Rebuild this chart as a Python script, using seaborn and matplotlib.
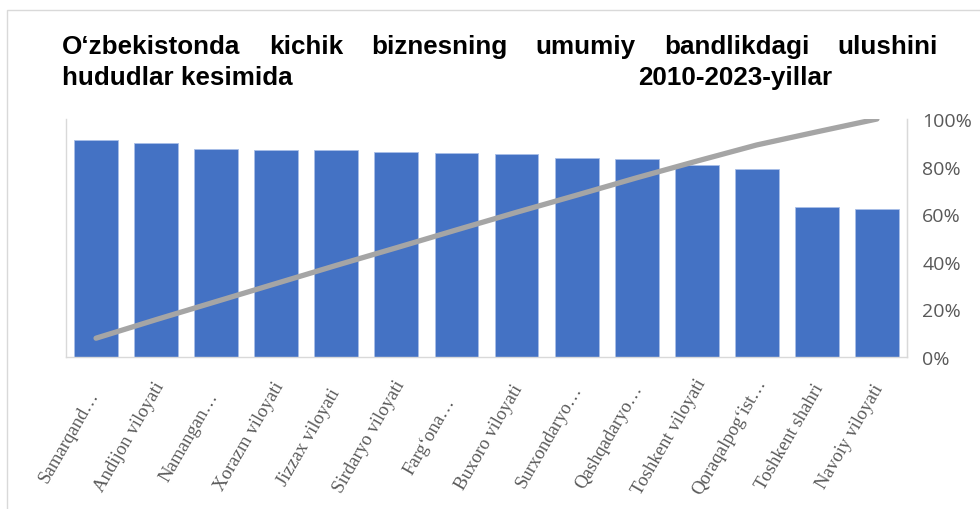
import numpy as np
import matplotlib
matplotlib.use('Agg')
import matplotlib.pyplot as plt
from matplotlib.patches import Rectangle
from matplotlib.ticker import PercentFormatter
from matplotlib.transforms import ScaledTranslation
import seaborn as sns

# Hududlar bo'yicha kichik biznes ulushi (%) va kumulyativ ulush (Pareto chizig'i)
regions = ['Samarqand…', 'Andijon viloyati', 'Namangan…', 'Xorazm viloyati',
           'Jizzax viloyati', 'Sirdaryo viloyati', 'Farg‘ona…', 'Buxoro viloyati',
           'Surxondaryo…', 'Qashqadaryo…', 'Toshkent viloyati', 'Qoraqalpog‘ist…',
           'Toshkent shahri', 'Navoiy viloyati']
shares = [91.2, 90.1, 87.5, 87.1, 87.1, 86.2, 85.7, 85.2, 83.5, 83.2, 80.7, 79.0, 63.2, 62.1]
cum_share = [7.9, 15.7, 23.3, 30.9, 38.5, 45.9, 53.4, 60.8, 68.0, 75.3, 82.3, 89.1, 94.6, 100.0]
pct_ticks = [0, 20, 40, 60, 80, 100]

title_line1 = ['O‘zbekistonda', 'kichik', 'biznesning', 'umumiy', 'bandlikdagi', 'ulushini']
title_line2_left = 'hududlar kesimida'
title_line2_right = '2010-2023-yillar'

W, H = 980, 510
BAR_COLOR = '#4472C4'
LINE_COLOR = '#A5A5A5'
AXIS_GREY = '#D9D9D9'
TEXT_GREY = '#595959'

sns.set_style('white')
plt.rcParams['font.family'] = ['Liberation Sans', 'DejaVu Sans']

fig = plt.figure(figsize=(W / 100, H / 100), dpi=100)
ax = fig.add_axes([66 / W, 1 - 358 / H, (907 - 66) / W, (358 - 120) / H])

x_pos = np.arange(len(regions))
sns.barplot(x=x_pos, y=shares, color=BAR_COLOR, width=0.73, saturation=1,
            edgecolor='#A9BEE8', linewidth=0.6, ax=ax)
ax.set_ylim(0, 100)
ax.set_yticks([])
ax.set_xticks(x_pos)
ax.set_xticklabels([])
ax.tick_params(axis='x', length=0)
ax.set_xlabel('')
ax.set_ylabel('')
ax.spines['top'].set_visible(False)
for side in ['left', 'bottom', 'right']:
    ax.spines[side].set_color(AXIS_GREY)
    ax.spines[side].set_linewidth(1)

# category labels: centred, rotated, sitting below and left of each bar (Excel look)
label_tr = ax.get_xaxis_transform() + ScaledTranslation(-0.27, -0.79, fig.dpi_scale_trans)
for xp, name in zip(x_pos, regions):
    ax.text(xp, 0, name, transform=label_tr, rotation=60, rotation_mode='anchor',
            ha='center', va='center', fontsize=13.5, color=TEXT_GREY,
            family=['Liberation Serif', 'DejaVu Serif'])

ax2 = ax.twinx()
sns.lineplot(x=x_pos, y=cum_share, color=LINE_COLOR, linewidth=3.8,
             solid_capstyle='round', ax=ax2)
ax2.set_ylim(0, 100)
ax2.set_yticks(pct_ticks)
ax2.yaxis.set_major_formatter(PercentFormatter(decimals=0))
ax2.tick_params(axis='y', length=0, pad=11, labelsize=14, labelcolor=TEXT_GREY)
for lab in ax2.get_yticklabels():
    lab.set_family(['Open Sans', 'DejaVu Sans'])
for side in ['top', 'left', 'bottom']:
    ax2.spines[side].set_visible(False)
ax2.spines['right'].set_color(AXIS_GREY)
ax2.set_ylabel('')
ax.set_xlim(-0.5, len(regions) - 0.5)

# chart border (Excel style), cut by the screenshot on right and bottom
fig.add_artist(Rectangle((7 / W, -0.05), 1.1, 1 - 11 / H + 0.05,
                         transform=fig.transFigure, fill=False,
                         ec=AXIS_GREY, lw=1))

# justified title
title_kw = dict(fontsize=18.7, fontweight='bold', color='black', va='baseline', ha='left')
renderer = fig.canvas.get_renderer()
y1 = 1 - 54 / H
y2 = 1 - 85 / H
words = [fig.text(0, y1, w, **title_kw) for w in title_line1]
widths = [t.get_window_extent(renderer).width for t in words]
left, right = 62, 938
gap = (right - left - sum(widths)) / (len(words) - 1)
x = left
for t, w in zip(words, widths):
    t.set_x(x / W)
    x += w + gap
fig.text(62 / W, y2, title_line2_left, **title_kw)
fig.text(638 / W, y2, title_line2_right, **title_kw)

fig.savefig('out.png', dpi=100)
